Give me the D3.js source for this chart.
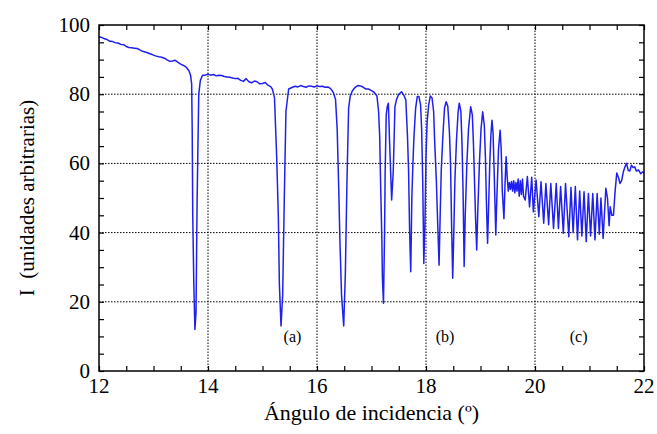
<!DOCTYPE html>
<html lang="es">
<head>
<meta charset="UTF-8">
<title>Intensidad frente al ángulo de incidencia</title>
<script src="https://d3js.org/d3.v7.min.js"></script>
<style>
  body { margin: 0; background: #fff; }
  svg text { font-family: "Liberation Serif", "Times New Roman", serif; fill: #000; }
</style>
</head>
<body>
<div id="chart"></div>
<script>
// Measured curve: angle (degrees) and intensity (arbitrary units)
var angle = [
  12.00, 12.05, 12.10, 12.15, 12.20, 12.25, 12.30, 12.35, 12.40, 12.45,
  12.50, 12.55, 12.60, 12.65, 12.70, 12.75, 12.80, 12.85, 12.90, 12.95,
  13.00, 13.05, 13.10, 13.15, 13.20, 13.25, 13.30, 13.35, 13.40, 13.45,
  13.50, 13.55, 13.60, 13.65, 13.68,
  13.70, 13.71, 13.72, 13.74, 13.76, 13.78, 13.80, 13.83, 13.86, 13.90,
  13.95, 14.00, 14.05, 14.10, 14.15, 14.20, 14.25, 14.30, 14.35, 14.40,
  14.45, 14.50, 14.55, 14.60, 14.65, 14.70, 14.75, 14.80, 14.85, 14.90,
  14.95, 15.00, 15.05, 15.10, 15.15, 15.18,
  15.22, 15.26, 15.29, 15.31, 15.34, 15.37, 15.40, 15.43, 15.48,
  15.55, 15.60, 15.65, 15.70, 15.75, 15.80, 15.85, 15.90, 15.95, 16.00,
  16.05, 16.10, 16.15, 16.20, 16.25, 16.30, 16.34,
  16.37, 16.40, 16.42, 16.45, 16.49, 16.52, 16.55, 16.58, 16.61, 16.65,
  16.70, 16.75, 16.80, 16.85, 16.90, 16.95, 17.00, 17.05, 17.10,
  17.13, 17.15, 17.17, 17.19, 17.20, 17.22, 17.24, 17.25, 17.27, 17.29,
  17.31, 17.33, 17.35, 17.37, 17.40, 17.43, 17.46, 17.50, 17.55, 17.60,
  17.63, 17.66, 17.68, 17.70, 17.72, 17.74, 17.76, 17.78, 17.81, 17.84,
  17.87, 17.90, 17.92, 17.94, 17.96, 17.98, 18.00, 18.02, 18.05, 18.08,
  18.11, 18.14, 18.16, 18.19, 18.22, 18.24, 18.26, 18.28, 18.31, 18.34,
  18.37, 18.40, 18.43, 18.45, 18.47, 18.49, 18.51, 18.53, 18.56, 18.59,
  18.61, 18.64, 18.66, 18.68, 18.70, 18.72, 18.75, 18.78, 18.82, 18.85,
  18.87, 18.89, 18.91, 18.93, 18.95, 18.98, 19.01, 19.04, 19.07, 19.09,
  19.11, 19.13, 19.15, 19.17, 19.19, 19.21, 19.23, 19.25, 19.27, 19.28,
  19.30, 19.33, 19.36, 19.38, 19.40, 19.43, 19.45, 19.47, 19.49, 19.51,
  19.53, 19.55, 19.57, 19.59, 19.61, 19.63, 19.65, 19.67, 19.69, 19.71,
  19.73, 19.75, 19.77, 19.79, 19.82, 19.86, 19.90, 19.94, 19.97, 20.02,
  20.07, 20.11, 20.16, 20.20, 20.25, 20.29, 20.34, 20.39, 20.43, 20.47,
  20.52, 20.56, 20.62, 20.66, 20.70, 20.74, 20.78, 20.82, 20.86, 20.90,
  20.94, 20.98, 21.02, 21.06, 21.10, 21.14, 21.18, 21.21, 21.25, 21.30,
  21.33, 21.36, 21.38, 21.41, 21.44, 21.47, 21.50, 21.53, 21.56, 21.59,
  21.62, 21.65, 21.68, 21.71, 21.74, 21.77, 21.80, 21.83, 21.86, 21.90,
  21.94, 21.97, 22.00
];

var intensity = [
  96.6, 96.4, 96.0, 95.8, 95.3, 95.2, 94.9, 94.8, 94.4, 94.3,
  93.8, 93.5, 93.4, 93.3, 93.2, 92.8, 92.4, 92.2, 91.9, 91.6,
  91.3, 91.0, 90.8, 90.7, 90.4, 89.9, 89.5, 89.6, 89.8, 89.2,
  88.7, 88.3, 87.8, 86.8, 85.5,
  83.0, 70.0, 45.0, 25.0, 12.0, 17.0, 49.0, 80.0, 84.0, 85.5,
  85.5, 85.8, 85.5, 85.7, 85.3, 85.5, 85.4, 85.1, 85.0, 84.9,
  84.7, 84.5, 84.6, 84.0, 83.7, 84.5, 83.6, 83.3, 83.8, 83.6,
  83.0, 83.1, 83.4, 82.6, 82.2, 81.5,
  79.0, 62.0, 45.0, 25.0, 13.0, 22.0, 50.0, 75.0, 81.5,
  82.0, 82.3, 82.1, 82.5, 82.2, 82.0, 82.4, 82.3, 82.1, 82.4,
  82.2, 82.3, 82.0, 82.1, 81.6, 80.5, 78.5,
  70.0, 52.0, 38.0, 22.0, 13.0, 28.0, 55.0, 76.0, 79.5, 81.0,
  82.0, 82.5, 82.4, 82.0, 81.5, 81.5, 81.0, 80.5, 79.5,
  75.0, 68.0, 52.0, 38.0, 27.0, 19.6, 40.0, 57.0, 74.0, 76.5,
  77.4, 67.0, 58.0, 49.4, 58.0, 76.4, 78.5, 80.0, 80.7, 79.5,
  78.3, 68.0, 58.0, 40.0, 28.7, 50.0, 60.0, 68.0, 76.0, 79.3,
  79.3, 77.0, 70.0, 55.0, 31.1, 42.0, 62.0, 72.0, 77.0, 79.5,
  79.0, 75.0, 66.0, 55.0, 40.0, 30.6, 45.0, 58.0, 68.0, 76.0,
  77.8, 76.5, 69.0, 60.0, 42.0, 26.8, 40.0, 55.0, 67.0, 75.0,
  77.4, 75.0, 66.0, 52.0, 30.2, 45.0, 60.0, 70.0, 76.4, 74.0,
  66.0, 55.0, 44.0, 35.0, 46.0, 60.0, 70.0, 74.9, 71.0, 62.0,
  48.0, 36.9, 48.0, 60.0, 68.0, 72.5, 69.0, 58.0, 46.0, 39.3,
  50.0, 64.0, 69.6, 64.0, 52.0, 44.0, 54.0, 61.9, 56.0, 52.0,
  54.5, 52.5, 54.8, 52.0, 55.0, 51.5, 54.5, 52.0, 55.5, 50.5,
  55.0, 51.0, 55.5, 50.5, 49.4, 56.2, 47.4, 56.0, 46.0, 55.2,
  44.6, 54.7, 42.7, 54.2, 42.3, 54.2, 41.2, 54.2, 41.2, 53.3,
  39.8, 54.2, 38.8, 53.0, 40.0, 53.3, 37.9, 52.0, 39.0, 51.8,
  37.4, 51.3, 39.0, 51.3, 37.9, 51.3, 39.5, 50.0, 38.3, 52.8,
  50.0, 42.0, 47.5, 45.0, 45.0, 52.0, 57.2, 56.0, 54.2, 55.0,
  57.5, 59.0, 60.0, 58.0, 57.8, 59.5, 58.8, 59.0, 57.8, 58.1,
  57.0, 57.5, 57.3
];

// Axis ticks and guide lines
var xTicks = [12, 14, 16, 18, 20, 22];
var yTicks = [0, 20, 40, 60, 80, 100];
var xGrid = [14, 16, 18, 20];
var yGrid = [20, 40, 60, 80];

// Region markers
var regionLabels = ["(a)", "(b)", "(c)"];
var regionAngles = [15.55, 18.35, 20.8];
var regionLevel = 8.5;

var width = 657, height = 434;
var margin = { top: 25, right: 13, bottom: 63, left: 99 };

var x = d3.scaleLinear().domain([12, 22]).range([margin.left, width - margin.right]);
var y = d3.scaleLinear().domain([0, 100]).range([height - margin.bottom, margin.top]);

var svg = d3.select("#chart").append("svg")
  .attr("width", width)
  .attr("height", height);

// dotted grid at the major ticks
svg.append("g").selectAll("line").data(xGrid).enter().append("line")
  .attr("x1", d => x(d)).attr("x2", d => x(d))
  .attr("y1", y(0)).attr("y2", y(100))
  .attr("stroke", "#000").attr("stroke-width", 1)
  .attr("stroke-dasharray", "1.5,1.5");

svg.append("g").selectAll("line").data(yGrid).enter().append("line")
  .attr("x1", x(12)).attr("x2", x(22))
  .attr("y1", d => y(d)).attr("y2", d => y(d))
  .attr("stroke", "#000").attr("stroke-width", 1)
  .attr("stroke-dasharray", "1.5,1.5");

// the curve
var line = d3.line()
  .x((d, i) => x(angle[i]))
  .y(d => y(d));

svg.append("path")
  .datum(intensity)
  .attr("fill", "none")
  .attr("stroke", "#2020ee")
  .attr("stroke-width", 1.5)
  .attr("stroke-linejoin", "round")
  .attr("d", line);

// axes with inward ticks on all four sides
var tickLen = 5;
var xMinor = d3.range(12, 22.01, 0.5);
var yMinor = d3.range(0, 100.1, 5);

var bottomAxis = d3.axisBottom(x).tickValues(xMinor).tickSize(-tickLen).tickFormat("");
var topAxis = d3.axisTop(x).tickValues(xMinor).tickSize(-tickLen).tickFormat("");
var leftAxis = d3.axisLeft(y).tickValues(yMinor).tickSize(-tickLen).tickFormat("");
var rightAxis = d3.axisRight(y).tickValues(yMinor).tickSize(-tickLen).tickFormat("");

svg.append("g").attr("transform", `translate(0,${y(0)})`).call(bottomAxis);
svg.append("g").attr("transform", `translate(0,${y(100)})`).call(topAxis);
svg.append("g").attr("transform", `translate(${x(12)},0)`).call(leftAxis);
svg.append("g").attr("transform", `translate(${x(22)},0)`).call(rightAxis);

svg.selectAll(".domain").remove();
svg.selectAll(".tick line").attr("stroke", "#000").attr("stroke-width", 1.2);

// frame
svg.append("rect")
  .attr("x", x(12)).attr("y", y(100))
  .attr("width", x(22) - x(12)).attr("height", y(0) - y(100))
  .attr("fill", "none").attr("stroke", "#000").attr("stroke-width", 1.5);

// tick labels
svg.append("g").selectAll("text").data(xTicks).enter().append("text")
  .attr("x", d => x(d)).attr("y", y(0) + 22)
  .attr("text-anchor", "middle")
  .style("font-size", "21px")
  .text(d => d);

svg.append("g").selectAll("text").data(yTicks).enter().append("text")
  .attr("x", x(12) - 9).attr("y", d => y(d) + 7)
  .attr("text-anchor", "end")
  .style("font-size", "21px")
  .text(d => d);

// axis titles
svg.append("text")
  .attr("x", (x(12) + x(22)) / 2).attr("y", 420)
  .attr("text-anchor", "middle")
  .style("font-size", "22px")
  .text("Ángulo de incidencia (º)");

svg.append("text")
  .attr("transform", `translate(34,${(y(0) + y(100)) / 2}) rotate(-90)`)
  .attr("text-anchor", "middle")
  .style("font-size", "21px")
  .style("white-space", "pre")
  .text("I  (unidades arbitrarias)");

// (a) (b) (c)
svg.append("g").selectAll("text").data(regionLabels).enter().append("text")
  .attr("x", (d, i) => x(regionAngles[i]))
  .attr("y", y(regionLevel))
  .attr("text-anchor", "middle")
  .style("font-size", "16px")
  .text(d => d);
</script>
</body>
</html>
